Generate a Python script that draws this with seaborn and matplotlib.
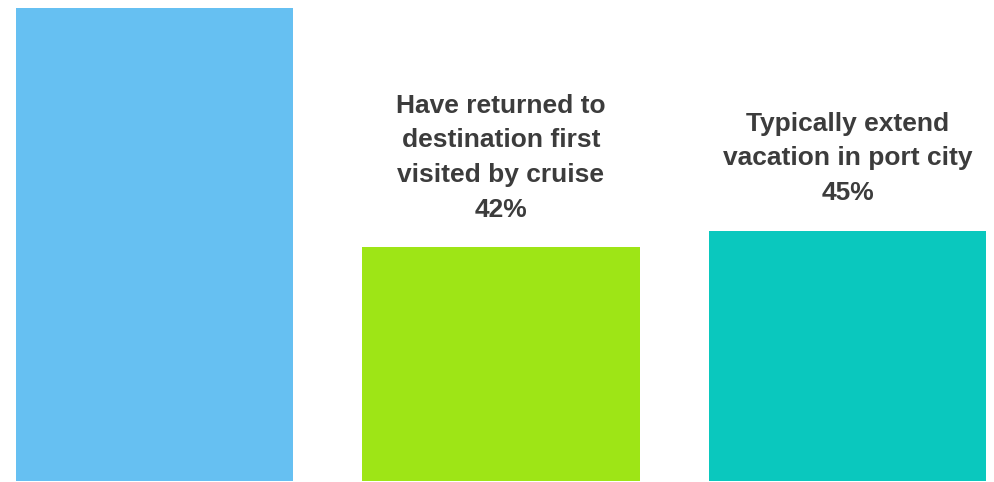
import matplotlib
matplotlib.use("Agg")
import matplotlib.pyplot as plt
import seaborn as sns
import pandas as pd

# Survey shares (percent of respondents)
categories = ["Cruise is a good way to sample destinations",
              "Have returned to destination first visited by cruise",
              "Typically extend vacation in port city"]
values = [85, 42, 45]
labels = ["", "Have returned to\ndestination first\nvisited by cruise\n42%",
          "Typically extend\nvacation in port city\n45%"]
colors = ["#66C0F2", "#9EE516", "#0AC8BE"]

sns.set_theme(style="white")
plt.rcParams["font.family"] = ["Liberation Sans", "DejaVu Sans"]

df = pd.DataFrame({"category": categories, "value": values})

fig = plt.figure(figsize=(9.95, 4.82), dpi=100)
ax = fig.add_axes([0, 0, 1, 1])
sns.barplot(data=df, x="category", y="value", hue="category",
            palette=colors, width=0.8, legend=False, ax=ax,
            saturation=1, linewidth=0)

for i, (v, lab) in enumerate(zip(values, labels)):
    if lab:
        ax.annotate(lab, xy=(i, v), xytext=(0, 18.5), textcoords="offset points",
                    ha="center", va="bottom", fontsize=19, fontweight="bold",
                    color="#3c3c3c", linespacing=1.56)

ax.set_xlim(-0.445, 2.425)
ax.set_ylim(-0.18, 86.5)
ax.axis("off")

fig.savefig("out.png", dpi=100)
